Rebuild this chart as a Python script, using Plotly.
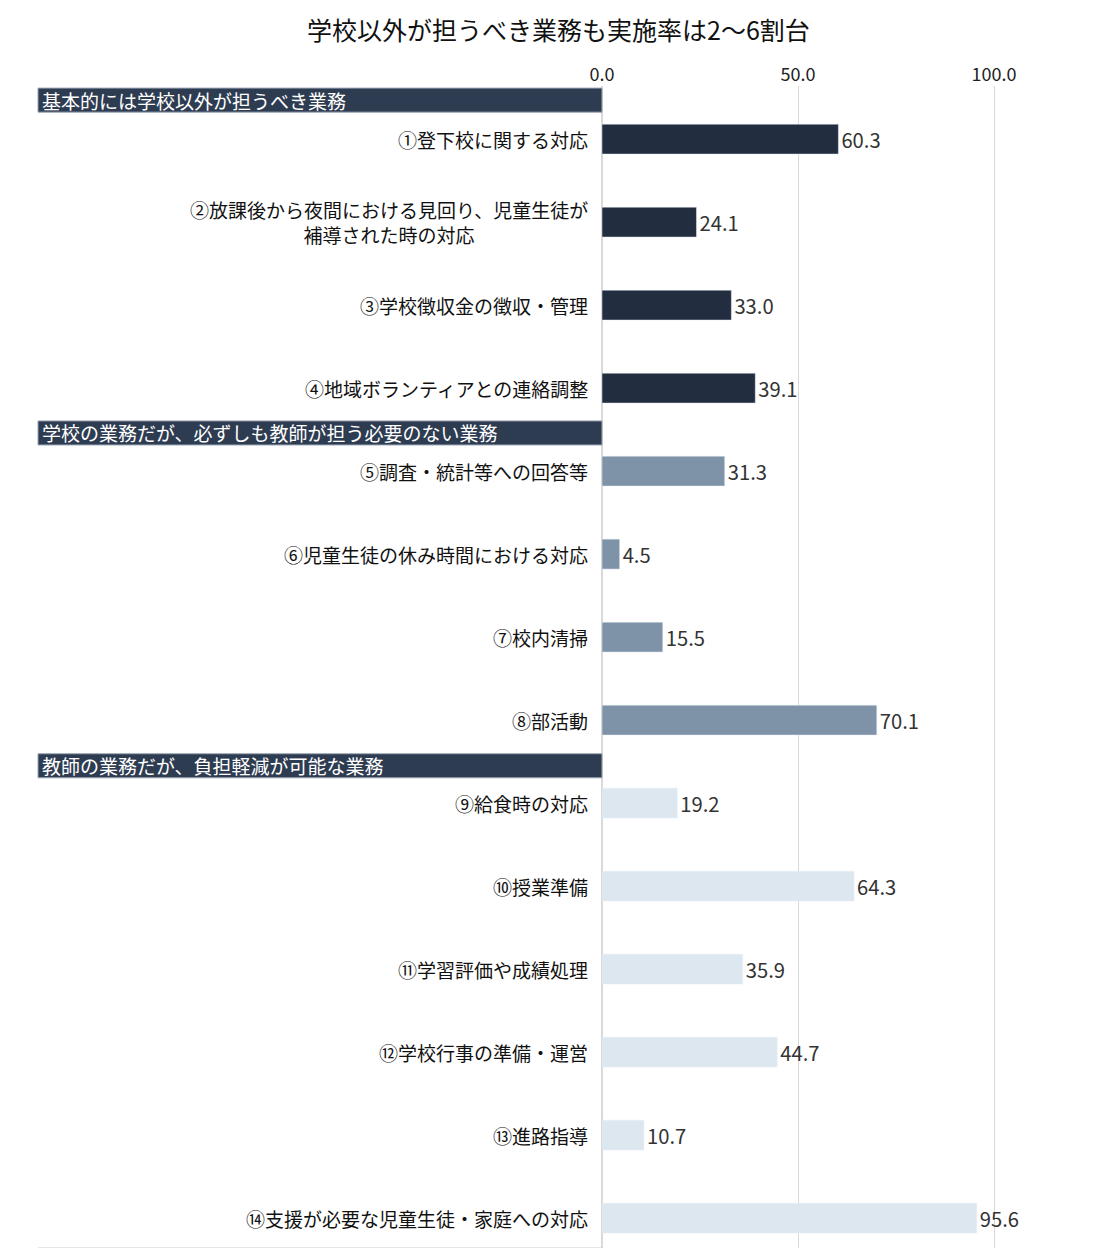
import plotly.graph_objects as go

labels = ["①登下校に関する対応", "②放課後から夜間における見回り、児童生徒が<br>補導された時の対応", "③学校徴収金の徴収・管理",
          "④地域ボランティアとの連絡調整", "⑤調査・統計等への回答等", "⑥児童生徒の休み時間における対応",
          "⑦校内清掃", "⑧部活動", "⑨給食時の対応", "⑩授業準備", "⑪学習評価や成績処理",
          "⑫学校行事の準備・運営", "⑬進路指導", "⑭支援が必要な児童生徒・家庭への対応"]
values = [60.3, 24.1, 33.0, 39.1, 31.3, 4.5, 15.5, 70.1, 19.2, 64.3, 35.9, 44.7, 10.7, 95.6]
groups = [0, 0, 0, 0, 1, 1, 1, 1, 2, 2, 2, 2, 2, 2]
group_names = ["基本的には学校以外が担うべき業務", "学校の業務だが、必ずしも教師が担う必要のない業務", "教師の業務だが、負担軽減が可能な業務"]
group_pos = [-0.47, 3.54, 7.55]
colors = ["#222d3f", "#7f93a8", "#dde7f0"]

ys = list(range(len(values)))
font = "Noto Sans CJK JP"
fig = go.Figure(go.Bar(
    x=values, y=ys, orientation="h", width=0.36,
    marker_color=[colors[g] for g in groups],
    text=[f"{v:.1f}" for v in values], textposition="outside",
    textfont=dict(size=23, color="#333333", family=font), cliponaxis=False,
))
xmax = (1080 - 594) / 3.92
annots = []
shapes = []
for y, lab in zip(ys, labels):
    annots.append(dict(x=0, xref="x", xshift=-12, y=y, yref="y", text=lab, showarrow=False,
                       xanchor="right", align="center", font=dict(size=19, color="#111111", family=font)))
for gp, gn in zip(group_pos, group_names):
    shapes.append(dict(type="rect", xref="paper", yref="y", x0=(30 - 594) / (1080 - 594), x1=0,
                       y0=gp - 0.145, y1=gp + 0.145, fillcolor="#2e3c52", line=dict(width=1, color="#9aa6b4"), layer="above"))
    annots.append(dict(x=(32 - 594) / (1080 - 594), xref="paper", y=gp, yref="y", text=gn, showarrow=False,
                       xanchor="left", font=dict(size=19, color="white", family=font)))
shapes.append(dict(type="line", xref="paper", yref="paper", x0=(30 - 594) / (1080 - 594), x1=0, y0=0, y1=0,
                   line=dict(color="#cccccc", width=1)))
fig.update_layout(
    width=1101, height=1248, margin=dict(l=594, r=21, t=78, b=8),
    plot_bgcolor="white", paper_bgcolor="white", showlegend=False,
    title=dict(text="学校以外が担うべき業務も実施率は2〜6割台", x=0.5, xanchor="center", y=0.988,
               font=dict(size=25, color="#111111", family=font)),
    xaxis=dict(range=[0, xmax], side="top", tickvals=[0, 50, 100], ticktext=["0.0", "50.0", "100.0"],
               showgrid=True, gridcolor="#d9d9d9", zeroline=True, zerolinecolor="#d9d9d9",
               tickfont=dict(size=18, color="#222222", family=font)),
    yaxis=dict(range=[13.36, -0.64], showticklabels=False, showgrid=False, zeroline=False),
    annotations=annots, shapes=shapes,
)
fig.write_html("out.html")
